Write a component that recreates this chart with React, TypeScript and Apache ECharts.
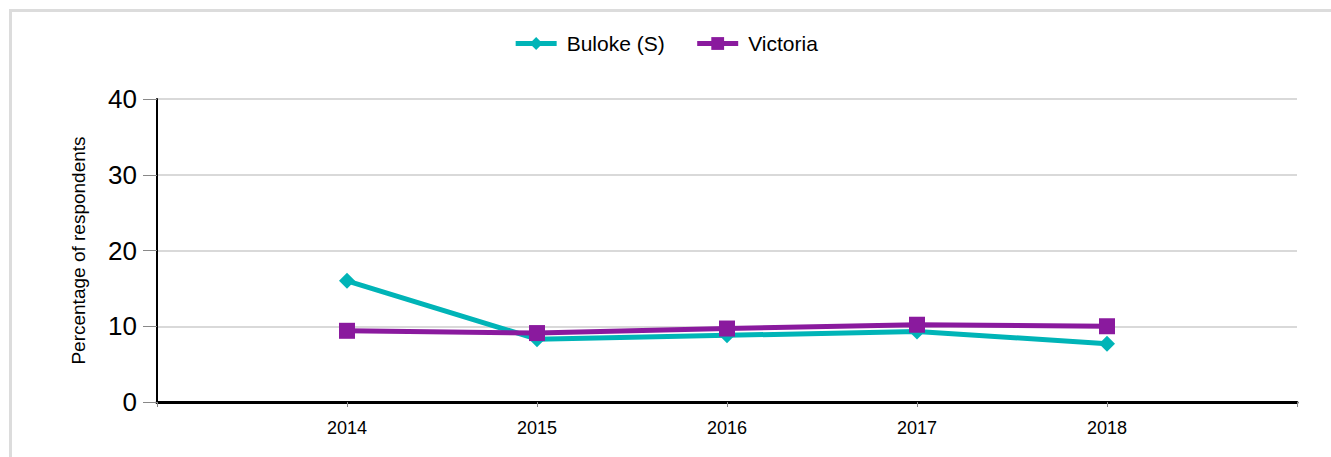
import React, { useEffect, useRef } from "react";
import * as echarts from "echarts";

const years = [2014, 2015, 2016, 2017, 2018];
const buloke = [16.0, 8.3, 8.8, 9.3, 7.7];
const victoria = [9.4, 9.1, 9.7, 10.2, 10.0];
const seriesNames = ["Buloke (S)", "Victoria"];
const yTicks = { min: 0, max: 40, interval: 10 };
const yAxisTitle = "Percentage of respondents";

export default function App() {
  const ref = useRef<HTMLDivElement>(null);
  useEffect(() => {
    if (!ref.current) return;
    const chart = echarts.init(ref.current, undefined, { renderer: "svg" });
    const font = "'Liberation Sans', Arial, sans-serif";
    chart.setOption({
      animation: false,
      textStyle: { fontFamily: font },
      legend: {
        top: 28,
        left: "center",
        itemWidth: 41,
        itemHeight: 16,
        itemGap: 30,
        lineStyle: { width: 5 },
        textStyle: { fontSize: 21, color: "#000", fontFamily: font, padding: [0, 0, 0, 5] },
        data: seriesNames,
      },
      grid: { left: 157, right: 34, top: 99, bottom: 55, containLabel: false },
      xAxis: {
        type: "value",
        min: 2013,
        max: 2019,
        interval: 1,
        splitLine: { show: false },
        axisLine: { lineStyle: { color: "#000", width: 3 } },
        axisTick: { show: true, length: 5, lineStyle: { color: "#888", width: 1 } },
        axisLabel: {
          fontSize: 18,
          color: "#000",
          margin: 17,
          fontFamily: font,
          formatter: (v: number) => (years.includes(v) ? String(v) : ""),
        },
      },
      yAxis: {
        type: "value",
        min: yTicks.min,
        max: yTicks.max,
        interval: yTicks.interval,
        name: yAxisTitle,
        nameLocation: "middle",
        nameGap: 69,
        nameTextStyle: { fontSize: 19, color: "#000", fontFamily: font },
        axisLine: { show: true, lineStyle: { color: "#000", width: 2 } },
        axisTick: { show: true, length: 14, lineStyle: { color: "#888", width: 1 } },
        axisLabel: { fontSize: 26, color: "#000", margin: 20, fontFamily: font },
        splitLine: { lineStyle: { color: "#d9d9d9", width: 2 } },
      },
      series: [
        {
          name: seriesNames[0],
          type: "line",
          data: years.map((y, i) => [y, buloke[i]]),
          symbol: "diamond",
          symbolSize: 16,
          showAllSymbol: true,
          lineStyle: { color: "#00b4b7", width: 5 },
          itemStyle: { color: "#00b4b7" },
          z: 2,
        },
        {
          name: seriesNames[1],
          type: "line",
          data: years.map((y, i) => [y, victoria[i]]),
          symbol: "rect",
          symbolSize: 16,
          showAllSymbol: true,
          lineStyle: { color: "#8a1a9e", width: 5 },
          itemStyle: { color: "#8a1a9e" },
          z: 3,
        },
      ],
    });
    return () => chart.dispose();
  }, []);
  return (
    <div
      style={{
        position: "absolute",
        left: 9,
        top: 9,
        width: 1340,
        height: 470,
        border: "3px solid #dcdcdc",
        boxSizing: "border-box",
        background: "#fff",
      }}
    >
      <div
        ref={ref}
        style={{ position: "absolute", left: -12, top: -12, width: 1331, height: 457 }}
      />
    </div>
  );
}
